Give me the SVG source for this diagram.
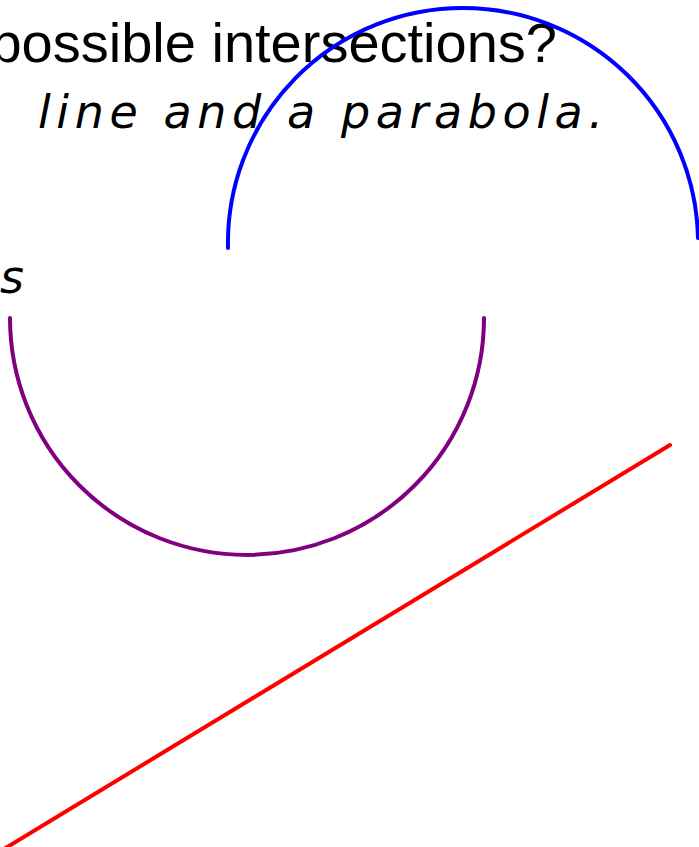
<svg xmlns="http://www.w3.org/2000/svg" width="699" height="847" viewBox="0 0 699 847">
<style>
.title{font-family:"Liberation Sans",Arial,sans-serif;font-size:56px;fill:#000}
.hand{font-family:"DejaVu Sans","Liberation Sans",sans-serif;font-style:italic;font-size:46px;fill:#000}
.curve{fill:none;stroke-width:4;stroke-linecap:round}
</style>
<rect width="699" height="847" fill="#fff"/>
<g id="texts">
<text class="title" x="557" y="62" text-anchor="end">possible intersections?</text>
<text class="hand" x="38" y="128" textLength="565" lengthAdjust="spacing">line and a parabola.</text>
<text class="hand" x="0" y="293">s</text>
</g>
<g id="shapes">
<path id="blue-arc" class="curve" stroke="#0000ff" d="M228 248 A235 235 0 0 1 463 8 A235 235 0 0 1 698 238"/>
<path id="purple-arc" class="curve" stroke="#800080" d="M10 318 A237 237 0 0 0 484 318"/>
<line id="red-line" class="curve" stroke="#ff0000" x1="670" y1="445" x2="4" y2="849"/>
</g>
</svg>
